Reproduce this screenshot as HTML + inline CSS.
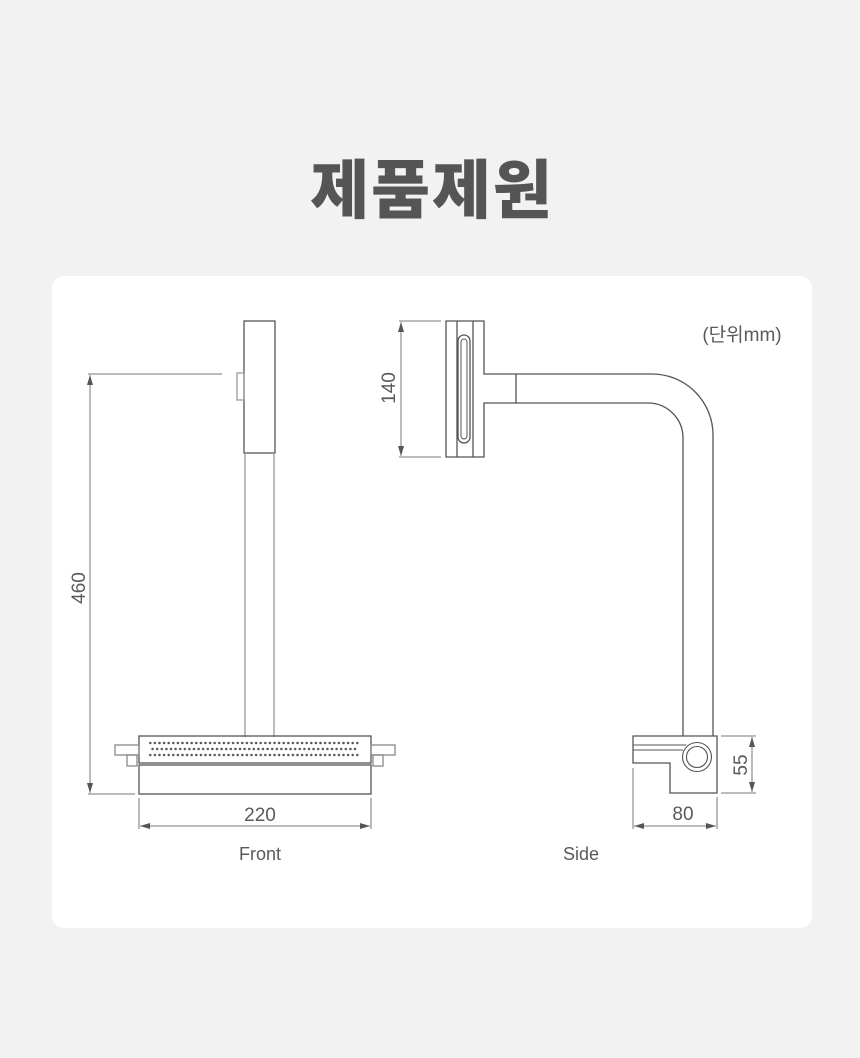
<!DOCTYPE html>
<html><head><meta charset="utf-8"><style>
body{margin:0;background:#f2f2f2;width:860px;height:1058px;overflow:hidden}
svg{display:block}
text{font-family:"Liberation Sans","Noto Sans CJK KR",sans-serif;fill:#5a5a5a}
</style></head><body>
<svg width="860" height="1058" viewBox="0 0 860 1058">
<defs>
<pattern id="dotsA" x="148" y="740" width="4.6" height="12" patternUnits="userSpaceOnUse">
<circle cx="2.3" cy="3" r="1.25" fill="#555"/>
<circle cx="2.3" cy="15" r="1.25" fill="#555"/>
</pattern>
<pattern id="dotsB" x="150.3" y="746" width="4.6" height="12" patternUnits="userSpaceOnUse">
<circle cx="2.3" cy="3" r="1.25" fill="#555"/>
</pattern>
<marker id="ah" viewBox="0 0 10 6" refX="10" refY="3" markerWidth="10" markerHeight="6" orient="auto-start-reverse" markerUnits="userSpaceOnUse"><path d="M0,0L10,3L0,6z" fill="#555"/></marker>
</defs>
<text x="432" y="213" text-anchor="middle" font-size="64" style="fill:#555;font-family:'Noto Sans CJK KR',sans-serif;font-weight:900" letter-spacing="2">제품제원</text>
<rect x="52" y="276" width="760" height="652" rx="12" fill="#fff"/>
<g fill="none" stroke="#555" stroke-width="1.3">
<!-- Front -->
<rect x="244" y="321" width="31" height="132"/>
<rect x="237" y="373" width="7" height="27" stroke="#999"/>
<line x1="245" y1="453" x2="245" y2="737" stroke="#999"/>
<line x1="274" y1="453" x2="274" y2="737" stroke="#999"/>
<rect x="139" y="736" width="232" height="27"/>
<rect x="139" y="765" width="232" height="29"/>
<rect x="115" y="745" width="24" height="10" stroke="#888"/>
<rect x="127" y="755" width="10" height="11" stroke="#888"/>
<rect x="371" y="745" width="24" height="10" stroke="#888"/>
<rect x="373" y="755" width="10" height="11" stroke="#888"/>
<!-- Side -->
<path d="M446,321H484V374H516V403H484V457H446Z"/>
<line x1="457" y1="321" x2="457" y2="457"/>
<line x1="473" y1="321" x2="473" y2="457"/>
<rect x="458" y="335" width="12" height="108" rx="6"/>
<rect x="461" y="339" width="6" height="100" rx="3" stroke-width="1"/>
<path d="M516,374H652A61,61 0 0 1 713,435V736"/>
<path d="M516,403H648A35,35 0 0 1 683,438V736"/>
<path d="M633,736H717V793H670V763H633Z"/>
<circle cx="697" cy="757" r="14.5" stroke-width="1.1"/>
<circle cx="697" cy="757" r="10.5" stroke-width="1.1"/>
<line x1="633" y1="745" x2="686" y2="745" stroke-width="1.1"/>
<line x1="633" y1="750" x2="683" y2="750" stroke-width="1.1"/>
</g>
<g stroke="#777" stroke-width="1" fill="none">
<line x1="88" y1="374" x2="222" y2="374"/>
<line x1="88" y1="794" x2="135" y2="794"/>
<line x1="90" y1="375" x2="90" y2="793" marker-start="url(#ah)" marker-end="url(#ah)"/>
<line x1="139" y1="798" x2="139" y2="829"/>
<line x1="371" y1="798" x2="371" y2="829"/>
<line x1="140" y1="826" x2="370" y2="826" marker-start="url(#ah)" marker-end="url(#ah)"/>
<line x1="399" y1="321" x2="441" y2="321"/>
<line x1="399" y1="457" x2="441" y2="457"/>
<line x1="401" y1="322" x2="401" y2="456" marker-start="url(#ah)" marker-end="url(#ah)"/>
<line x1="721" y1="736" x2="756" y2="736"/>
<line x1="721" y1="793" x2="756" y2="793"/>
<line x1="752" y1="737" x2="752" y2="792" marker-start="url(#ah)" marker-end="url(#ah)"/>
<line x1="633" y1="768" x2="633" y2="829"/>
<line x1="717" y1="797" x2="717" y2="829"/>
<line x1="634" y1="826" x2="716" y2="826" marker-start="url(#ah)" marker-end="url(#ah)"/>
</g>
<rect x="148" y="740" width="212" height="18" fill="url(#dotsA)"/>
<rect x="150" y="746" width="208" height="6" fill="url(#dotsB)"/>
<g font-size="19">
<text x="88" y="588" text-anchor="middle" transform="rotate(-90 88 588)" dy="-3">460</text>
<text x="260" y="821" text-anchor="middle">220</text>
<text x="398" y="388" text-anchor="middle" transform="rotate(-90 398 388)" dy="-3">140</text>
<text x="750" y="765" text-anchor="middle" transform="rotate(-90 750 765)" dy="-3">55</text>
<text x="683" y="820" text-anchor="middle">80</text>
<text x="260" y="860" text-anchor="middle" font-size="18">Front</text>
<text x="581" y="860" text-anchor="middle" font-size="18">Side</text>
<text x="742" y="341" text-anchor="middle" font-size="19">(단위mm)</text>
</g>
</svg>
</body></html>
